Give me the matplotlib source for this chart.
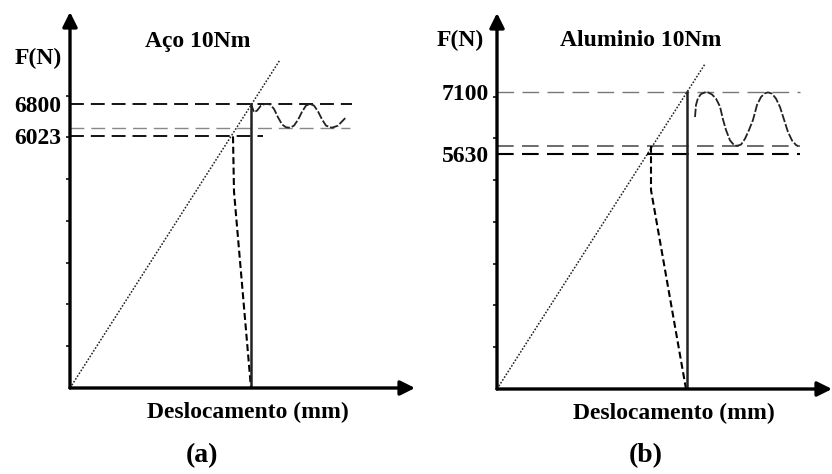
import matplotlib.pyplot as plt

plt.rcParams['font.family'] = ['Liberation Serif', 'DejaVu Serif']
plt.rcParams['font.weight'] = 'bold'
plt.rcParams['lines.scale_dashes'] = False

W, H = 832, 474

# scale ticks on the force axis (N)
tick_forces = [1000, 2000, 3000, 4000, 5000, 6000, 7000]

# (a) Aco 10Nm
a_labels = ["6800", "6023"]
a_label_vals = [6800, 6023]
a_diag_x = [0, 210]
a_diag_f = [0, 7855]
a_drop_x = [163, 164, 181]
a_drop_f = [6023, 4700, 0]
a_vert_x = [181, 181]
a_vert_f = [0, 6800]
a_peak_line = 6800
a_low_line = 6023
a_trough_line = 6230
a_wave_x = [181, 184, 187, 191, 195, 200, 204, 208, 212, 216, 220, 224, 228,
            232, 236, 240, 244, 248, 252, 256, 262, 268, 272, 276]
a_wave_f = [6800, 6600, 6640, 6760, 6800, 6790, 6680, 6480, 6310, 6240, 6230,
            6280, 6420, 6610, 6760, 6800, 6760, 6620, 6430, 6280, 6230, 6280,
            6380, 6480]

# (b) Aluminio 10Nm
b_labels = ["7100", "5630"]
b_label_vals = [7100, 5630]
b_diag_x = [0, 208]
b_diag_f = [0, 7780]
b_drop_x = [154, 154, 189]
b_drop_f = [5820, 4760, 0]
b_vert_x = [190, 190]
b_vert_f = [0, 7100]
b_peak_line = 7100
b_low_line = 5630
b_trough_line = 5820
b_wave_x = [198, 199, 201, 204, 208, 211, 215, 219, 223, 226, 229, 233, 237,
            240, 244, 248, 252, 256, 260, 264, 268, 271, 275, 279, 283, 287,
            291, 295, 299, 301]
b_wave_f = [6510, 6800, 6965, 7060, 7100, 7100, 7050, 6950, 6760, 6450, 6200,
            5950, 5840, 5820, 5850, 5990, 6200, 6440, 6800, 6990, 7080, 7100,
            7070, 6950, 6750, 6450, 6150, 5950, 5840, 5816]

fig = plt.figure(figsize=(W / 100, H / 100), dpi=100)


def px_axes(x0, y0, x1, y1):
    return fig.add_axes([x0 / W, 1 - y1 / H, (x1 - x0) / W, (y1 - y0) / H])


def draw_panel(ax, xmax, labels, label_vals, diag_x, diag_f, drop_x, drop_f,
               vert_x, vert_f, peak, low, trough, wave_x, wave_f, line_end,
               low_end, trough_end, peak_style, low_style, trough_style):
    ax.set_xlim(0, xmax)
    ax.set_ylim(0, 9000)
    for s in ax.spines.values():
        s.set_visible(False)
    ax.set_xticks([])
    ax.set_yticks(label_vals)
    ax.set_yticklabels(labels, fontsize=17, fontweight='bold')
    ax.tick_params(axis='y', which='major', length=0, pad=6)
    ax.set_yticks(tick_forces, minor=True)
    ax.tick_params(axis='y', which='minor', length=3, width=1.3, color='#222222')

    arrow = dict(arrowstyle='-|>', lw=2.4, color='black', mutation_scale=22,
                 shrinkA=0, shrinkB=0)
    ax.annotate('', xy=(0, 9000), xytext=(0, 0), arrowprops=arrow,
                annotation_clip=False)
    ax.annotate('', xy=(xmax, 0), xytext=(0, 0), arrowprops=arrow,
                annotation_clip=False)

    ax.hlines(peak, 0, line_end, clip_on=False, **peak_style)
    ax.hlines(trough, 0, trough_end, clip_on=False, **trough_style)
    ax.hlines(low, 0, low_end, clip_on=False, **low_style)

    ax.plot(diag_x, diag_f, color='#222222', lw=1.1, linestyle=(0, (1.2, 1.2)))
    ax.plot(drop_x, drop_f, color='black', lw=1.5, linestyle=(0, (5, 2.5)))
    ax.plot(vert_x, vert_f, color='#222222', lw=1.8)
    ax.plot(wave_x, wave_f, color='#222222', lw=1.3, linestyle=(0, (6, 1.5)),
            clip_on=False)


ax_a = px_axes(70, 12, 415, 388)
draw_panel(ax_a, 345, a_labels, a_label_vals, a_diag_x, a_diag_f,
           a_drop_x, a_drop_f, a_vert_x, a_vert_f,
           a_peak_line, a_low_line, a_trough_line, a_wave_x, a_wave_f,
           line_end=282, low_end=193, trough_end=280,
           peak_style=dict(colors='black', lw=1.3, linestyles=[(0, (10, 5))]),
           low_style=dict(colors='black', lw=1.3, linestyles=[(0, (10, 5))]),
           trough_style=dict(colors='#888888', lw=1.0, linestyles=[(0, (10, 5))]))

ax_b = px_axes(497, 13, 832, 389)
draw_panel(ax_b, 335, b_labels, b_label_vals, b_diag_x, b_diag_f,
           b_drop_x, b_drop_f, b_vert_x, b_vert_f,
           b_peak_line, b_low_line, b_trough_line, b_wave_x, b_wave_f,
           line_end=303, low_end=303, trough_end=303,
           peak_style=dict(colors='#777777', lw=1.0, linestyles=[(0, (12, 6))]),
           low_style=dict(colors='black', lw=1.5, linestyles=[(0, (12, 6))]),
           trough_style=dict(colors='#444444', lw=1.1, linestyles=[(0, (12, 6))]))


def ptext(x, y, s, size=17):
    fig.text(x / W, 1 - y / H, s, ha='center', va='center', fontsize=size,
             fontweight='bold')


ptext(38, 58, "F(N)", 17)
ptext(198, 42, "Aço 10Nm", 17)
ptext(248, 412, "Deslocamento (mm)", 17)
ptext(202, 456, "(a)", 20)

ptext(460, 40, "F(N)", 17)
ptext(641, 41, "Aluminio 10Nm", 17)
ptext(674, 413, "Deslocamento (mm)", 17)
ptext(646, 456, "(b)", 20)

fig.savefig("out.png", dpi=100)
